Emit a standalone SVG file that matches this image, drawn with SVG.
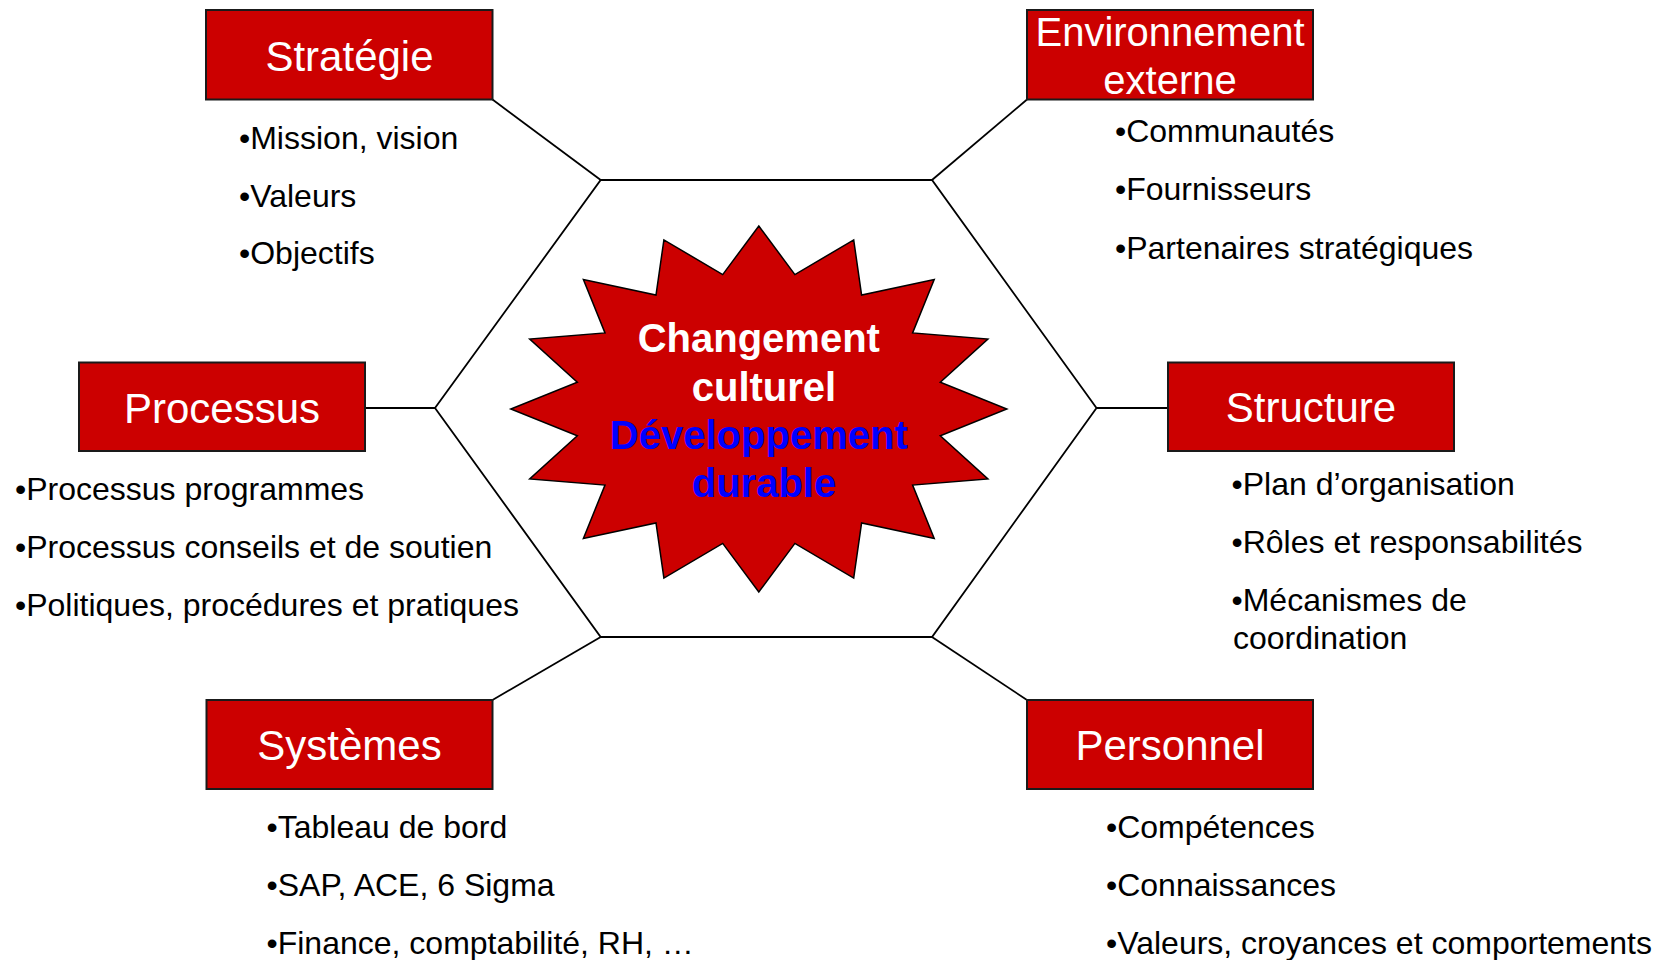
<svg xmlns="http://www.w3.org/2000/svg" width="1664" height="960" viewBox="0 0 1664 960">
  <style>
    .box { fill: #CC0000; stroke: #1a1a1a; stroke-width: 2; }
    .title { font-family: "Liberation Sans", Arial, sans-serif; font-size: 42px; fill: #FFFFFF; text-anchor: middle; }
    .item { font-family: "Liberation Sans", Arial, sans-serif; font-size: 32px; fill: #000000; }
    .link { stroke: #000000; stroke-width: 1.8; fill: none; }
    .core { font-family: "Liberation Sans", Arial, sans-serif; font-size: 40px; font-weight: bold; text-anchor: middle; }
  </style>
  <rect width="1664" height="960" fill="#FFFFFF"/>

  <!-- central hexagon -->
  <g id="hexagon">
    <polygon class="link" points="600.7,180 932,180 1096.5,408 932,637 600.7,637 435,408"/>
  </g>

  <!-- connectors from the labelled boxes to the hexagon corners -->
  <g id="connectors">
    <line class="link" x1="492.5" y1="99.5" x2="600.7" y2="180"/>
    <line class="link" x1="1027" y1="99.5" x2="932" y2="180"/>
    <line class="link" x1="365" y1="408" x2="435" y2="408"/>
    <line class="link" x1="1096.5" y1="408" x2="1168" y2="408"/>
    <line class="link" x1="492.5" y1="700" x2="600.7" y2="637"/>
    <line class="link" x1="1027" y1="700" x2="932" y2="637"/>
  </g>

  <!-- 16-point star in the middle -->
  <g id="center">
    <polygon fill="#CC0000" stroke="#000000" stroke-width="1.5" points="758.8,226 794.9,274.6 853.7,239.9 861.6,295.1 934.2,279.6 912.6,332.9 987.9,339 940.3,382.3 1006.8,409 940.3,435.7 987.9,479 912.6,485.1 934.2,538.4 861.6,522.9 853.7,578.1 794.9,543.4 758.8,592 722.7,543.4 663.9,578.1 656,522.9 583.4,538.4 605,485.1 529.7,479 577.3,435.7 510.8,409 577.3,382.3 529.7,339 605,332.9 583.4,279.6 656,295.1 663.9,239.9 722.7,274.6"/>
    <text class="core" x="758.8" y="351.7" fill="#FFFFFF">Changement</text>
    <text class="core" x="764" y="400.5" fill="#FFFFFF">culturel</text>
    <text class="core" x="758.8" y="448.5" fill="#0000FF">Développement</text>
    <text class="core" x="764" y="496.5" fill="#0000FF">durable</text>
  </g>

  <g id="strategie">
    <rect class="box" x="206" y="10" width="286.5" height="89.5"/>
    <text class="title" x="349.5" y="70.5">Stratégie</text>
    <text class="item" x="239" y="149">•Mission, vision</text>
    <text class="item" x="239" y="206.5">•Valeurs</text>
    <text class="item" x="239" y="264">•Objectifs</text>
  </g>

  <g id="environnement">
    <rect class="box" x="1027" y="10" width="286" height="89.5"/>
    <text class="title" x="1170" y="45.5" style="font-size:40px">Environnement</text>
    <text class="title" x="1170" y="93.5" style="font-size:40px">externe</text>
    <text class="item" x="1115" y="142">•Communautés</text>
    <text class="item" x="1115" y="200.4">•Fournisseurs</text>
    <text class="item" x="1115" y="258.8">•Partenaires stratégiques</text>
  </g>

  <g id="processus">
    <rect class="box" x="79" y="362.5" width="286" height="88.5"/>
    <text class="title" x="222" y="422.5">Processus</text>
    <text class="item" x="15" y="500">•Processus programmes</text>
    <text class="item" x="15" y="558">•Processus conseils et de soutien</text>
    <text class="item" x="15" y="616">•Politiques, procédures et pratiques</text>
  </g>

  <g id="structure">
    <rect class="box" x="1168" y="362.5" width="286" height="88.5"/>
    <text class="title" x="1311" y="422">Structure</text>
    <text class="item" x="1231.5" y="495">•Plan d’organisation</text>
    <text class="item" x="1231.5" y="553">•Rôles et responsabilités</text>
    <text class="item" x="1231.5" y="611">•Mécanismes de</text>
    <text class="item" x="1233" y="648.5">coordination</text>
  </g>

  <g id="systemes">
    <rect class="box" x="206.5" y="700" width="286" height="89"/>
    <text class="title" x="349.5" y="760">Systèmes</text>
    <text class="item" x="266.5" y="838">•Tableau de bord</text>
    <text class="item" x="266.5" y="896">•SAP, ACE, 6 Sigma</text>
    <text class="item" x="266.5" y="954">•Finance, comptabilité, RH, …</text>
  </g>

  <g id="personnel">
    <rect class="box" x="1027" y="700" width="286" height="89"/>
    <text class="title" x="1170" y="760">Personnel</text>
    <text class="item" x="1106" y="838">•Compétences</text>
    <text class="item" x="1106" y="896">•Connaissances</text>
    <text class="item" x="1106" y="954">•Valeurs, croyances et comportements</text>
  </g>
</svg>
